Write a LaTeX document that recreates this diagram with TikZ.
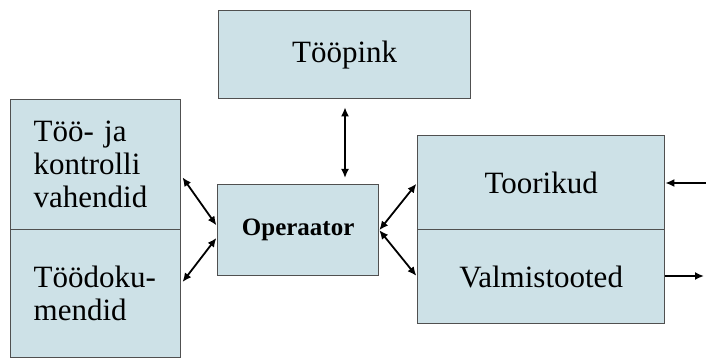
\documentclass[tikz,border=0pt]{standalone}
\usepackage{fontspec}
\setmainfont{Liberation Serif}
\usetikzlibrary{arrows.meta}
\definecolor{boxfill}{HTML}{CDE1E7}
\definecolor{boxline}{HTML}{505050}
\begin{document}
\begin{tikzpicture}[x=1pt,y=-1pt,
  box/.style={draw=boxline,fill=boxfill,line width=1.3pt,inner sep=0pt,anchor=north west,
    font=\fontsize{31}{33}\selectfont},
  lbox/.style={box,inner xsep=23pt,text width=124pt,align=left},
  conn/.style={line width=1.8pt,{Latex[length=9pt,width=8pt]}-{Latex[length=9pt,width=8pt]}},
  oneway/.style={line width=1.8pt,-{Latex[length=9pt,width=8pt]}}]
\useasboundingbox (0,0) rectangle (706,358);
\node[box,minimum width=252pt,minimum height=88pt] (pink) at (218,10) {Tööpink};
\node[box,minimum width=161pt,minimum height=91pt,font=\fontsize{25}{28}\selectfont\bfseries] (op) at (217,184) {Operaator};
\node[lbox,minimum height=130pt] (vah) at (10,99) {Töö- ja\\kontrolli\\vahendid};
\node[lbox,minimum height=128pt] (dok) at (10,229) {Töödoku-\\mendid};
\node[box,minimum width=247pt,minimum height=94pt] (toor) at (417,135) {Toorikud};
\node[box,minimum width=247pt,minimum height=94pt] (valm) at (417,229) {Valmistooted};
\coordinate (inp) at (706,183);
\coordinate (outp) at (704,276);
\draw[conn,shorten <=8pt,shorten >=6pt] (pink.south -| 345,0) -- (op.north -| 345,0);
\draw[conn,shorten <=2pt,shorten >=1pt] ([yshift=-11pt]vah.east) -- ([yshift=4pt]op.west);
\draw[conn,shorten <=2pt,shorten >=1pt] ([yshift=10pt]dok.east) -- ([yshift=-7pt]op.west);
\draw[conn,shorten >=1pt] (op.east) -- (toor.south west |- 0,183);
\draw[conn,shorten >=1pt] (op.east) -- (valm.west);
\draw[oneway] (inp) -- (toor.east |- inp);
\draw[oneway] (valm.east |- outp) -- (outp);
\end{tikzpicture}
\end{document}
